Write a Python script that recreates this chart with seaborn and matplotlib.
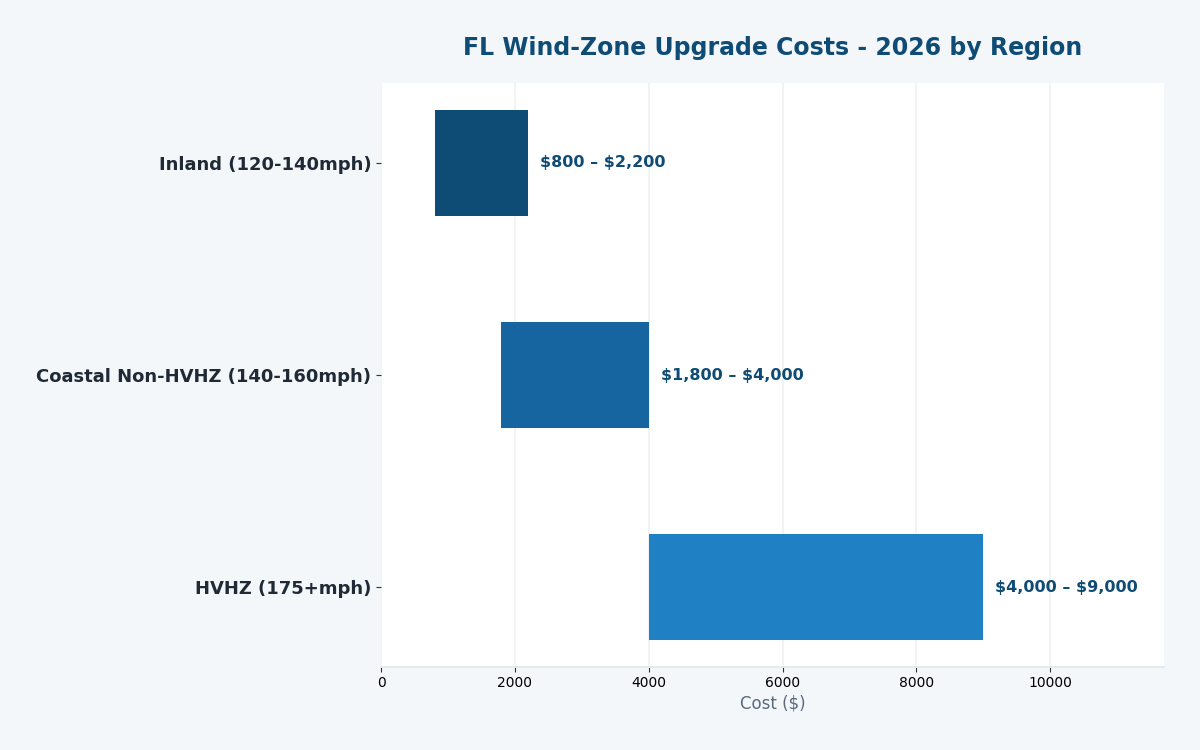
import matplotlib
matplotlib.use("Agg")
import matplotlib.pyplot as plt
import seaborn as sns
import pandas as pd

regions = ["Inland (120-140mph)", "Coastal Non-HVHZ (140-160mph)", "HVHZ (175+mph)"]
low_costs = [800, 1800, 4000]
high_costs = [2200, 4000, 9000]
bar_colors = ["#0f4c75", "#1665a0", "#1f80c3"]

sns.set_theme(style="white")
plt.rcParams['font.family'] = ['DejaVu Sans']

df = pd.DataFrame({"region": regions, "low": low_costs, "high": high_costs})
df["span"] = df["high"] - df["low"]

fig, ax = plt.subplots(figsize=(12, 7.5), dpi=100)
fig.patch.set_facecolor("#f4f7fa")
ax.set_facecolor("white")
fig.subplots_adjust(left=0.3175, right=0.97, top=0.889, bottom=0.111)

sns.barplot(data=df, x="span", y="region", left=df["low"].values, orient="h",
            width=0.5, ax=ax, color=bar_colors[0], saturation=1, linewidth=0,
            zorder=3)
for patch, c in zip(ax.patches, bar_colors):
    patch.set_facecolor(c)

for i, (lo, hi) in enumerate(zip(low_costs, high_costs)):
    ax.text(hi + 180, i, f"\\${lo:,} \u2013 \\${hi:,}", va="center", ha="left",
            fontsize=11.5, fontweight="bold", color="#0f4c75", zorder=4)

ax.set_xlim(0, 11700)
ax.set_ylim(2.375, -0.375)
ax.xaxis.grid(True, color="#eef2f6", linewidth=1.2, zorder=0)
ax.set_axisbelow(True)
for s in ["top", "right", "left"]:
    ax.spines[s].set_visible(False)
ax.spines["bottom"].set_color("#e3e8ee")
ax.tick_params(axis="x", which="both", bottom=True, length=3.5, width=0.8, color="#333333", labelsize=10, labelcolor="black")
ax.tick_params(axis="y", left=True, length=3.5, width=0.8, color="#333333", labelsize=13, labelcolor="#1f2a36")
for lab in ax.get_yticklabels():
    lab.set_fontweight("bold")
ax.set_ylabel("")
ax.set_xlabel("Cost (\\$)", fontsize=12, color="#5a6b7f", labelpad=3)
ax.set_title("FL Wind-Zone Upgrade Costs - 2026 by Region", fontsize=17, fontweight="bold",
             color="#0f4c75", pad=20)

fig.savefig("out.png", dpi=100, facecolor=fig.get_facecolor())
